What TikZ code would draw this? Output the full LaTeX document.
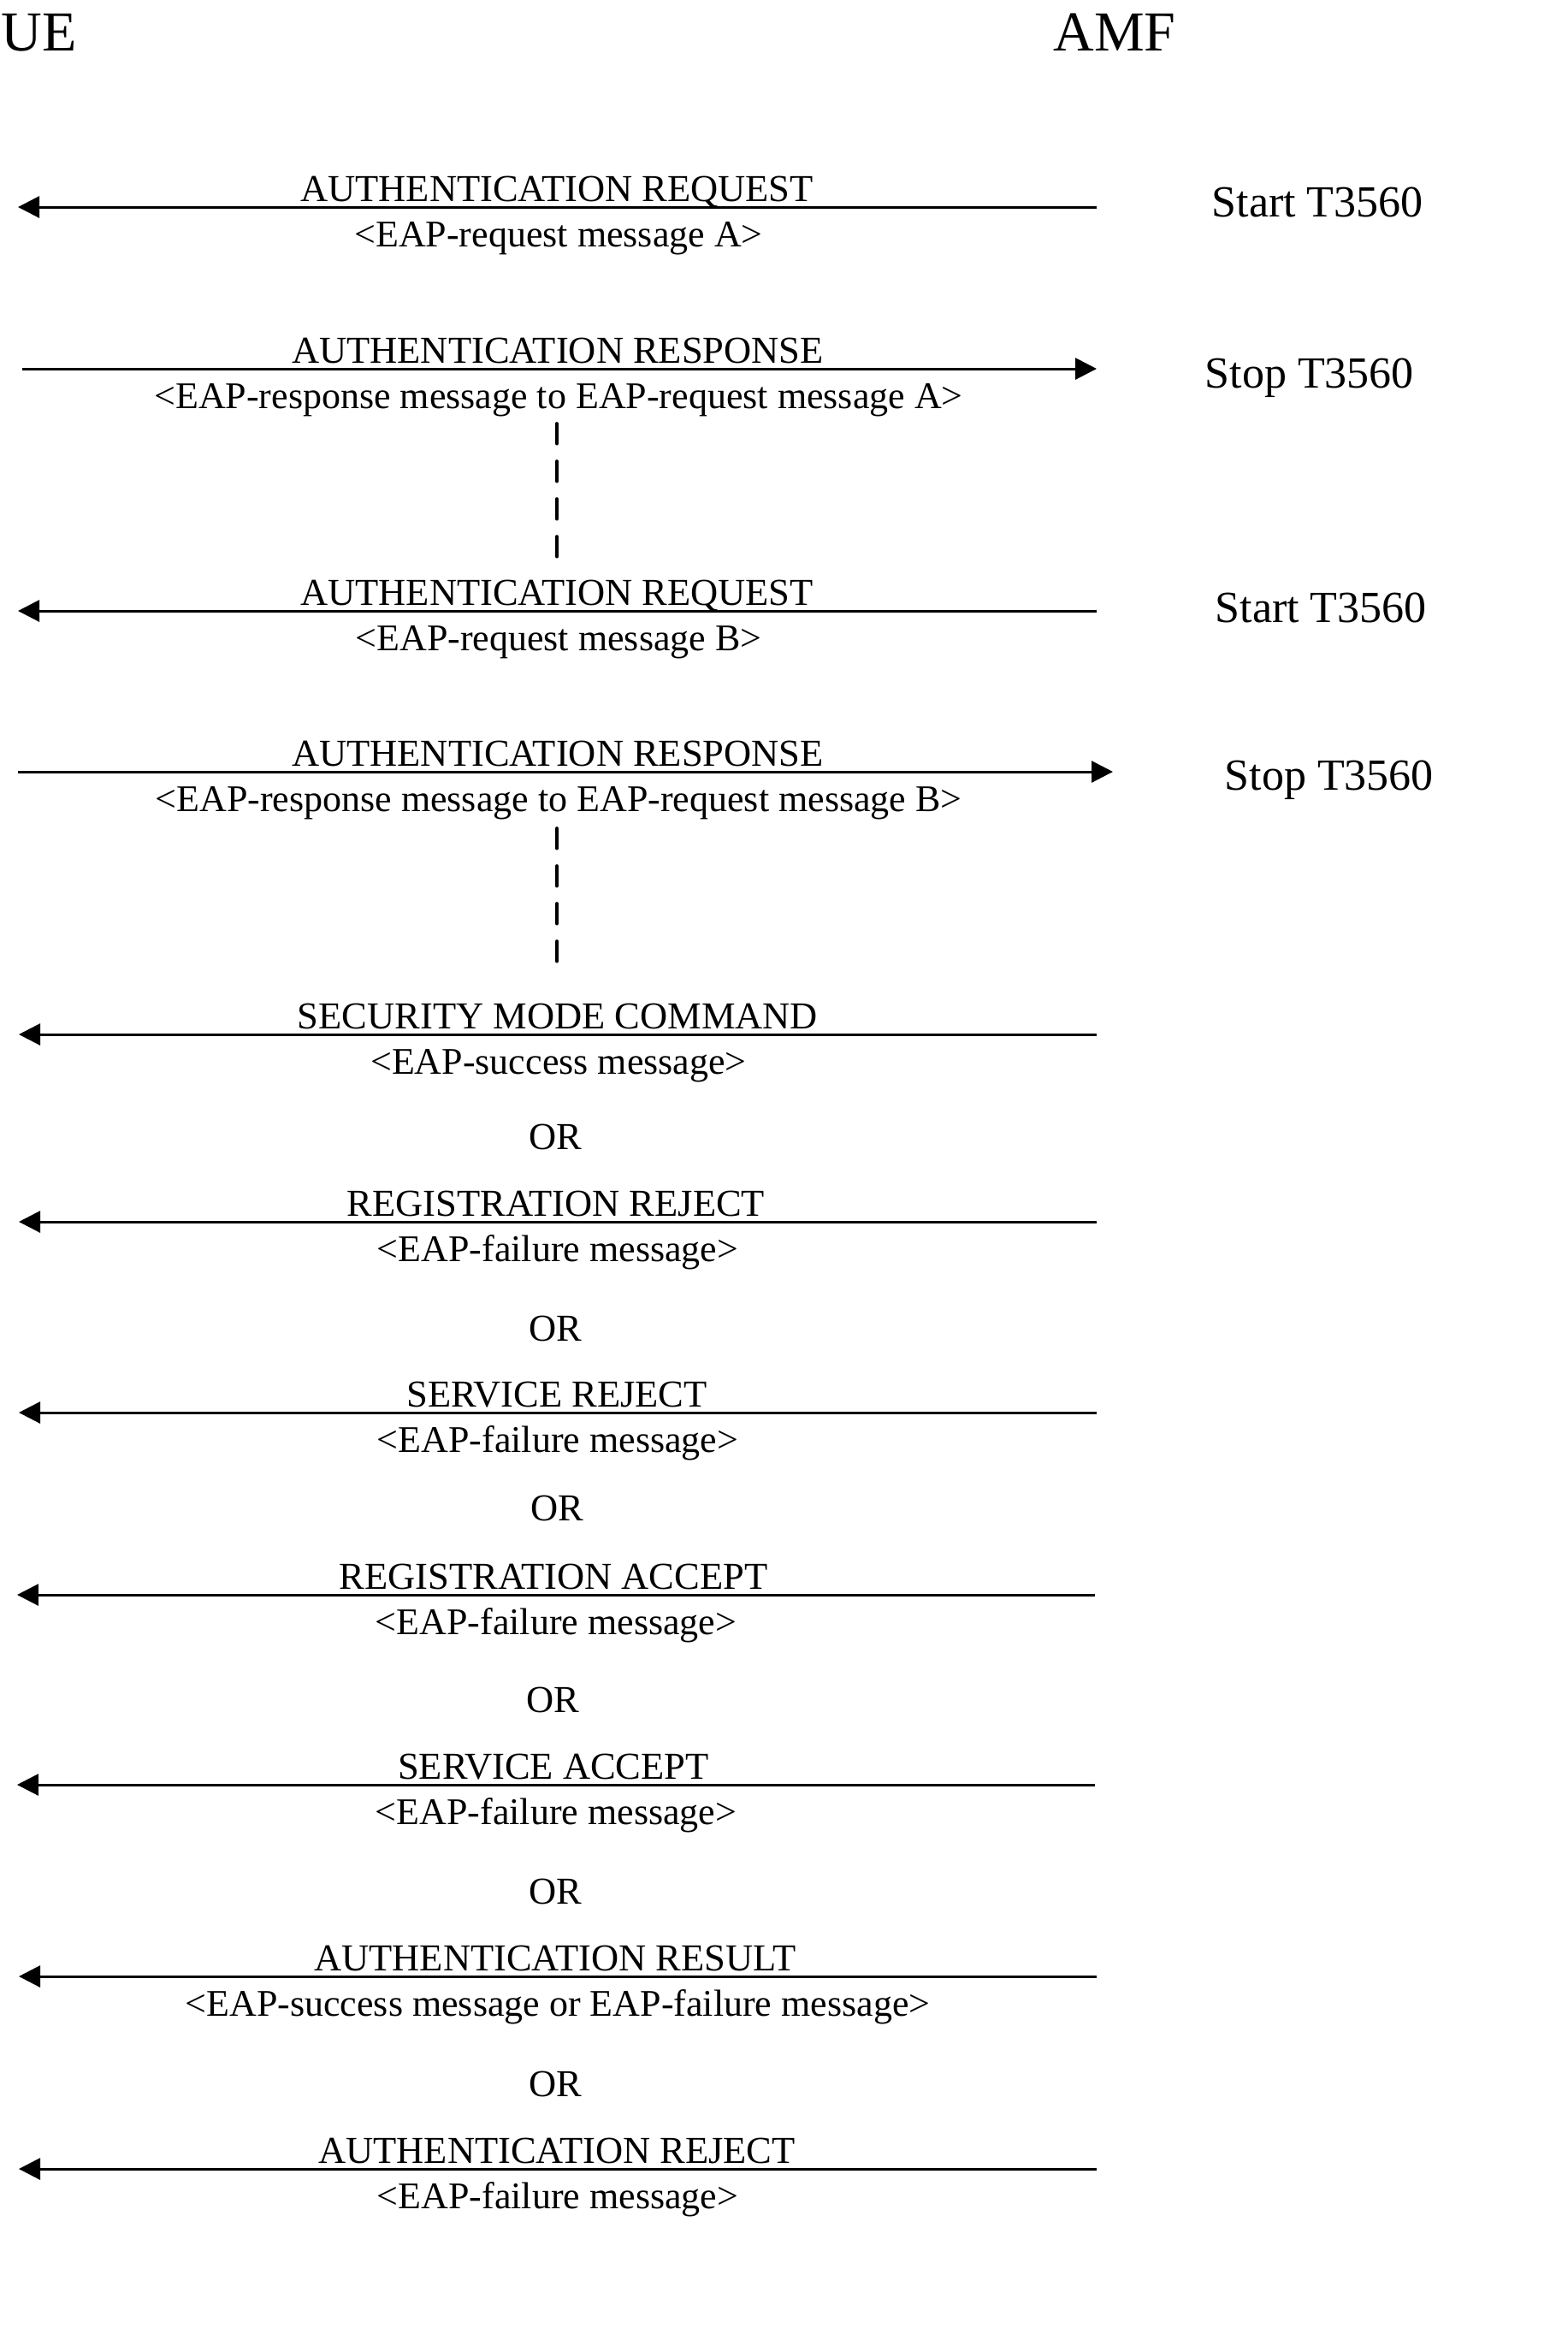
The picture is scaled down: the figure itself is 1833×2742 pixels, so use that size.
\documentclass[tikz,border=0pt]{standalone}
\usepackage{fontspec}
\setmainfont{Liberation Serif}
\usetikzlibrary{arrows.meta}
\tikzset{
  msg/.style={line width=0.9pt, -{Triangle[length=7.5pt,width=7.5pt]}},
  lbl/.style={anchor=base, inner sep=0pt, font=\fontsize{13.35pt}{15pt}\selectfont},
  sub/.style={anchor=base, inner sep=0pt, font=\fontsize{13.2pt}{15pt}\selectfont},
  timer/.style={anchor=base west, inner sep=0pt, font=\fontsize{15.6pt}{18pt}\selectfont},
  entity/.style={anchor=base west, inner sep=0pt, font=\fontsize{19.8pt}{23pt}\selectfont},
  gap/.style={line width=1.1pt, line cap=round, dash pattern=on 7.1pt off 6.1pt}
}
\begin{document}
\begin{tikzpicture}[x=0.3pt,y=-0.3pt]
\useasboundingbox (0,0) rectangle (1833,2742);
% entities
\node[entity] (ue) at (1,59) {UE};
\node[entity] (amf) at (1231,59) {AMF};
% message 1
\coordinate (u1) at (21,242); \coordinate (a1) at (1282,242);
\draw[msg] (a1) -- (u1);
\node[lbl] (m1a) at (651,235) {AUTHENTICATION REQUEST};
\node[sub] (m1b) at (653,288) {<EAP-request message A>};
\node[timer] (t1) at (1416,253) {Start T3560};
% message 2
\coordinate (u2) at (26,431); \coordinate (a2) at (1282,431);
\draw[msg] (u2) -- (a2);
\node[lbl] (m2a) at (652,424) {AUTHENTICATION RESPONSE};
\node[sub] (m2b) at (653,477) {<EAP-response message to EAP-request message A>};
\node[timer] (t2) at (1408,453) {Stop T3560};
% gap 1
\coordinate (g1a) at (651,495); \coordinate (g1b) at (651,651);
\draw[gap] (g1a) -- (g1b);
% message 3
\coordinate (u3) at (21,714); \coordinate (a3) at (1282,714);
\draw[msg] (a3) -- (u3);
\node[lbl] (m3a) at (651,707) {AUTHENTICATION REQUEST};
\node[sub] (m3b) at (653,760) {<EAP-request message B>};
\node[timer] (t3) at (1420,727) {Start T3560};
% message 4
\coordinate (u4) at (21,902); \coordinate (a4) at (1301,902);
\draw[msg] (u4) -- (a4);
\node[lbl] (m4a) at (652,895) {AUTHENTICATION RESPONSE};
\node[sub] (m4b) at (653,948) {<EAP-response message to EAP-request message B>};
\node[timer] (t4) at (1431,923) {Stop T3560};
% gap 2
\coordinate (g2a) at (651,968); \coordinate (g2b) at (651,1124);
\draw[gap] (g2a) -- (g2b);
% message 5
\coordinate (u5) at (22,1209); \coordinate (a5) at (1282,1209);
\draw[msg] (a5) -- (u5);
\node[lbl] (m5a) at (652,1202) {SECURITY MODE COMMAND};
\node[sub] (m5b) at (653,1255) {<EAP-success message>};
\node[lbl] (or1) at (649,1343) {OR};
% message 6
\coordinate (u6) at (22,1428); \coordinate (a6) at (1282,1428);
\draw[msg] (a6) -- (u6);
\node[lbl] (m6a) at (650,1421) {REGISTRATION REJECT};
\node[sub] (m6b) at (652,1474) {<EAP-failure message>};
\node[lbl] (or2) at (649,1567) {OR};
% message 7
\coordinate (u7) at (22,1651); \coordinate (a7) at (1282,1651);
\draw[msg] (a7) -- (u7);
\node[lbl] (m7a) at (651,1644) {SERVICE REJECT};
\node[sub] (m7b) at (652,1697) {<EAP-failure message>};
\node[lbl] (or3) at (651,1777) {OR};
% message 8
\coordinate (u8) at (20,1864); \coordinate (a8) at (1280,1864);
\draw[msg] (a8) -- (u8);
\node[lbl] (m8a) at (647,1857) {REGISTRATION ACCEPT};
\node[sub] (m8b) at (650,1910) {<EAP-failure message>};
\node[lbl] (or4) at (646,2001) {OR};
% message 9
\coordinate (u9) at (20,2086); \coordinate (a9) at (1280,2086);
\draw[msg] (a9) -- (u9);
\node[lbl] (m9a) at (647,2079) {SERVICE ACCEPT};
\node[sub] (m9b) at (650,2132) {<EAP-failure message>};
\node[lbl] (or5) at (649,2225) {OR};
% message 10
\coordinate (u10) at (22,2310); \coordinate (a10) at (1282,2310);
\draw[msg] (a10) -- (u10);
\node[lbl] (m10a) at (649,2303) {AUTHENTICATION RESULT};
\node[sub] (m10b) at (652,2356) {<EAP-success message or EAP-failure message>};
\node[lbl] (or6) at (649,2450) {OR};
% message 11
\coordinate (u11) at (22,2535); \coordinate (a11) at (1282,2535);
\draw[msg] (a11) -- (u11);
\node[lbl] (m11a) at (651,2528) {AUTHENTICATION REJECT};
\node[sub] (m11b) at (652,2581) {<EAP-failure message>};
\end{tikzpicture}
\end{document}
